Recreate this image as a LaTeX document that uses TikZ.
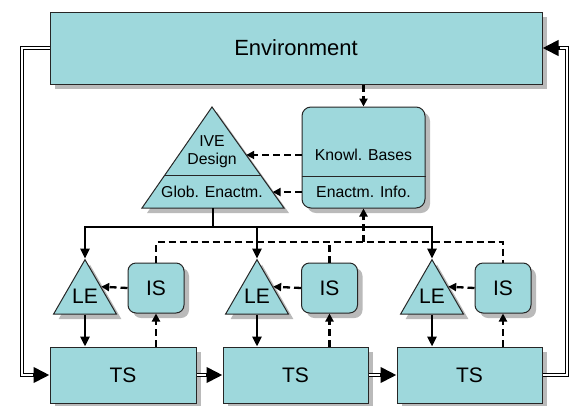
\documentclass[tikz,border=0pt]{standalone}
\usepackage{fontspec}
\setmainfont{Liberation Sans}
\usetikzlibrary{shadows,shapes.geometric,arrows.meta,calc}
\definecolor{boxfill}{RGB}{158,216,220}

\begin{document}
\begin{tikzpicture}[x=1pt,y=-1pt,
  shade/.style={drop shadow={shadow xshift=5pt,shadow yshift=-5pt,fill=black!27,opacity=1}},
  box/.style={draw=black!85,line width=1pt,fill=boxfill,shade,inner sep=0pt},
  rbox/.style={box,rounded corners=9pt},
  letri/.style={box,regular polygon,regular polygon sides=3,minimum size=66pt},
  bigtext/.style={font=\fontsize{22}{26}\selectfont},
  midtext/.style={font=\fontsize{21}{25}\selectfont},
  smalltext/.style={font=\fontsize{15.8}{18}\selectfont,align=center},
  solid line/.style={line width=2.5pt},
  solid arrow/.style={solid line,-{Triangle[length=10pt,width=9pt]}},
  dash line/.style={line width=2.3pt,dash pattern=on 7pt off 4pt},
  dash arrow/.style={dash line,-{Triangle[length=8pt,width=8pt]}},
  dbl arrow/.style={line width=3.8pt,-{Triangle[length=16pt,width=15pt]},
    postaction={draw=white,line width=1.6pt,-,shorten >=17pt}}]
\useasboundingbox (0,0) rectangle (570,405);

% environment and knowledge bases
\node[box,bigtext,minimum width=492pt,minimum height=72pt] (env) at (296,48) {Environment};
\node[rbox,minimum width=123pt,minimum height=101pt] (kb) at (363.5,157.5) {};
\draw[draw=black!85,line width=1pt] (kb.west |- 0,176) -- (kb.east |- 0,176);
\node[smalltext] (kbtxt) at (363.5,155) {Knowl. Bases};
\node[smalltext] (eitxt) at (363.5,192) {Enactm. Info.};

% IVE design triangle
\coordinate (ivetop) at (212,107);
\coordinate (ivel) at (142,208);
\coordinate (iver) at (284,208);
\draw[box] (ivetop) -- (iver) -- (ivel) -- cycle;
\draw[draw=black!85,line width=1pt] ($(ivetop)!0.683!(ivel)$) -- ($(ivetop)!0.683!(iver)$);
\node[smalltext] (ivetxt) at (212,152) {IVE\\Design};
\node[smalltext] (globtxt) at (212,192) {Glob. Enactm.};
\coordinate (ivein1) at ($(ivetop)!0.475!(iver)$);
\coordinate (ivein2) at ($(ivetop)!0.842!(iver)$);
\coordinate (ivebase) at ($(ivel)!.5!(iver)$);

% transaction systems
\node[box,midtext,minimum width=146pt,minimum height=56pt] (ts1) at (123,375) {TS};
\node[box,midtext,minimum width=145pt,minimum height=56pt] (ts2) at (295.5,375) {TS};
\node[box,midtext,minimum width=145pt,minimum height=56pt] (ts3) at (469.5,375) {TS};

% information systems
\node[rbox,midtext,minimum width=56pt,minimum height=50pt,rounded corners=8pt] (is1) at (156,288) {IS};
\node[rbox,midtext,minimum width=56pt,minimum height=50pt,rounded corners=8pt] (is2) at (329.5,288) {IS};
\node[rbox,midtext,minimum width=56pt,minimum height=50pt,rounded corners=8pt] (is3) at (503,288) {IS};

% local enactment
\node[letri,midtext] (le1) at (85,296) {\raisebox{-4pt}{LE}};
\node[letri,midtext] (le2) at (257,296) {\raisebox{-4pt}{LE}};
\node[letri,midtext] (le3) at (432,296) {\raisebox{-4pt}{LE}};

% connectors
\draw[dash arrow] (env.south -| kb.north) -- (kb.north);
\draw[dash arrow] (kb.west |- ivein1) -- (ivein1);
\draw[dash arrow] (kb.west |- ivein2) -- (ivein2);

\coordinate (split) at (ivebase |- 0,227);
\draw[solid line] (ivebase) -- (split);
\draw[solid arrow] (split) -| (le1.corner 1);
\draw[solid arrow] (split) -| (le2.corner 1);
\draw[solid arrow] (split) -| (le3.corner 1);

\coordinate (isbus) at (kb.south |- 0,242);
\draw[dash line] (is1.north) |- (isbus) -| (is3.north);
\draw[dash line] (is2.north) -- (is2.north |- isbus);
\draw[dash arrow] (isbus) -- (kb.south);

\draw[dash arrow] (is1.west) -- (le1.side 3);
\draw[dash arrow] (is2.west) -- (le2.side 3);
\draw[dash arrow] (is3.west) -- (le3.side 3);
\draw[solid arrow] (le1.side 2) -- (le1.side 2 |- ts1.north);
\draw[solid arrow] (le2.side 2) -- (le2.side 2 |- ts2.north);
\draw[solid arrow] (le3.side 2) -- (le3.side 2 |- ts3.north);
\draw[dash arrow] (ts1.north -| is1) -- (is1.south);
\draw[dash arrow] (ts2.north -| is2) -- (is2.south);
\draw[dash arrow] (ts3.north -| is3) -- (is3.south);

% feedback loops
\coordinate (lloop) at (22,0);
\coordinate (rloop) at (567,0);
\draw[dbl arrow] (env.west) -- (env.west -| lloop) -- (ts1.west -| lloop) -- (ts1.west);
\draw[dbl arrow] (ts1) -- (ts2);
\draw[dbl arrow] (ts2) -- (ts3);
\draw[dbl arrow] (ts3.east) -- (ts3.east -| rloop) -- (env.east -| rloop) -- (env.east);

\end{tikzpicture}
\end{document}
